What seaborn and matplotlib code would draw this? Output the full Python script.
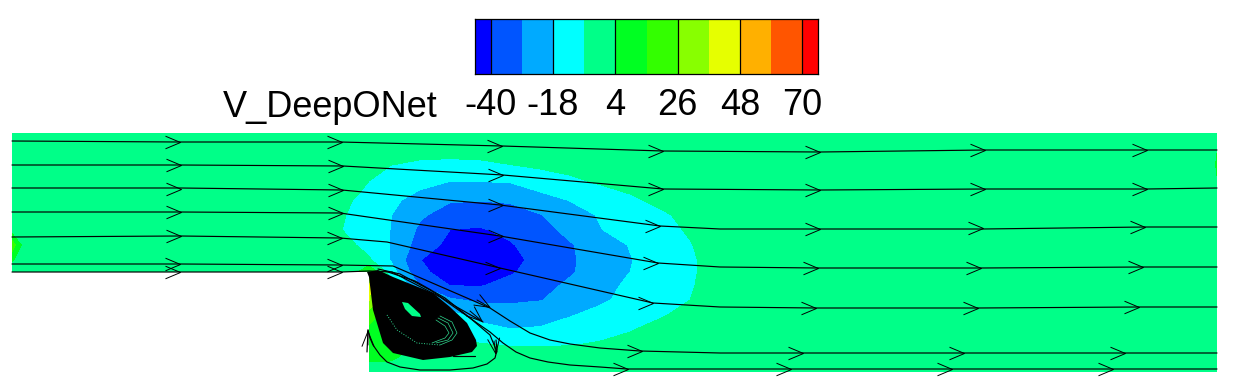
import numpy as np
import matplotlib
matplotlib.use("Agg")
import matplotlib.pyplot as plt
import seaborn as sns
from matplotlib.colors import ListedColormap, BoundaryNorm
from matplotlib.path import Path

# Contour levels and legend
levels = [-40, -29, -18, -7, 4, 15, 26, 37, 48, 59, 70]
band_colors = ['#0000ff', '#0055ff', '#00aaff', '#00ffff', '#00ff88', '#00ff22',
               '#33ff00', '#88ff00', '#e6ff00', '#ffb000', '#ff5500', '#ff0000']
band_mid = [-45, -34.5, -23.5, -12.5, -1.5, 9.5, 20.5, 31.5, 42.5, 53.5, 64.5, 75]
band_cells = [1, 2, 2, 2, 2, 2, 2, 2, 2, 2, 2, 1]
tick_labels = ['-40', '-18', '4', '26', '48', '70']
tick_cells = [1, 5, 9, 13, 17, 21]

# V field, rows are y, columns are x
field_x = [12, 24, 300, 340, 360, 369, 390, 420, 450, 480, 510, 540, 570, 600, 630, 660, 690, 710, 740, 1213, 1217]
field_y = [133, 150, 165, 182, 200, 215, 230, 245, 260, 272, 285, 300, 315, 330, 345, 358, 372]
field_v = [
    [-1.5, -1.5, -1.5, -1.5, -1.5, -1.5, -1.5, -1.5, -1.5, -1.5, -1.5, -1.5, -1.5, -1.5, -1.5, -1.5, -1.5, -1.5, -1.5, -1.5, -1.5],
    [-1.5, -1.5, -1.5, -1.5, -1.5, -1.5, -1.5, -1.5, -1.5, -1.5, -1.5, -1.5, -1.5, -1.5, -1.5, -1.5, -1.5, -1.5, -1.5, -1.5, 3],
    [-1.5, -1.5, -1.5, -1.5, -2.5, -4, -6.8, -10, -11, -10, -7.2, -5.5, -4, -3, -2, -1.5, -1.5, -1.5, -1.5, -1.5, 7],
    [-1.5, -1.5, -1.5, -2.5, -5, -7.2, -11, -15, -18.3, -18.2, -17.7, -12, -9, -6, -4, -2.5, -1.5, -1.5, -1.5, -1.5, 2],
    [-1.5, -1.5, -1.5, -4.5, -8.5, -10.5, -15.5, -22, -28, -28.5, -27.5, -23, -17.5, -13, -8.5, -5, -3, -2, -1.5, -1.5, -1.5],
    [-1.5, -1.5, -1.5, -5.5, -10.5, -13, -17.5, -27.5, -33.5, -36, -34, -29.5, -23.5, -17, -13, -8.5, -4.5, -2.5, -1.5, -1.5, -1.5],
    [-1.5, -1.5, -1.5, -6.5, -11, -13, -18, -31, -40, -41, -37.5, -33, -26, -18.5, -14, -10, -6, -3.5, -1.5, -1.5, -1.5],
    [22, -1.5, -1.5, -3, -8, -11.5, -18, -34, -43, -46, -41, -35, -30, -23, -17.5, -12.5, -7.5, -4, -1.5, -1.5, -1.5],
    [5, -1.5, -1.5, -1.5, -3.5, -5.5, -18, -39.8, -45, -46, -44, -36, -30.5, -24, -18.5, -13.5, -8.5, -4.5, -1.5, -1.5, -1.5],
    [-1.5, -1.5, -1.5, -1.5, 5, 14, -12, -38, -44, -45, -41.5, -35, -30, -24.5, -18, -13.5, -8.5, -4.5, -1.5, -1.5, -1.5],
    [-1.5, -1.5, -1.5, -1.5, 5, 40, 0, -30, -40.5, -41, -36, -32, -27.5, -22, -16, -12, -8, -4, -1.5, -1.5, -1.5],
    [-1.5, -1.5, -1.5, -1.5, 5, 38, 5, -15, -27.5, -31, -31, -29.5, -25, -20, -14.5, -10.5, -7, -3.5, -1.5, -1.5, -1.5],
    [-1.5, -1.5, -1.5, -1.5, 5, 20, 8, -5, -15, -21, -23, -21.5, -18.8, -14.5, -11, -8, -4, -2, -1.5, -1.5, -1.5],
    [-1.5, -1.5, -1.5, -1.5, 5, 12, 8, 0, -10, -15, -17.5, -17, -13, -10, -7.5, -4, -2, -1.5, -1.5, -1.5, -1.5],
    [-1.5, -1.5, -1.5, -1.5, 5, 8, 7, 3, -2, -6, -7.6, -7.6, -7.3, -6, -4, -2.5, -1.5, -1.5, -1.5, -1.5, -1.5],
    [-1.5, -1.5, -1.5, -1.5, 5, 6, 5.5, -1, -1.5, -1.5, -3, -3, -2, -1.5, -1.5, -1.5, -1.5, -1.5, -1.5, -1.5, -1.5],
    [-1.5, -1.5, -1.5, -1.5, -1.5, -1.5, -1.5, -1.5, -1.5, -1.5, -1.5, -1.5, -1.5, -1.5, -1.5, -1.5, -1.5, -1.5, -1.5, -1.5, -1.5],
]

# Step geometry, white below the inlet channel
step_x = [12, 369]
step_top = 272
step_bottom = 372

# Recirculation bubble outline and its eye
vortex_x = [367, 378, 393, 413, 433, 450, 467, 476, 477, 472, 450, 423, 393, 383, 373, 369]
vortex_y = [272, 270, 277, 285, 293, 307, 323, 340, 346, 352, 357, 360, 353, 343, 310, 277]
eye_x = [402, 408, 420, 421, 412, 405]
eye_y = [302, 303, 314, 317, 316, 309]

# Light traces showing through the black bubble
trace1_x = [440, 452, 457, 452, 440]
trace1_y = [345, 340, 333, 322, 316]
trace2_x = [436, 448, 453, 448, 438]
trace2_y = [343, 340, 333, 323, 318]
trace3_x = [432, 445, 449, 445, 436]
trace3_y = [343, 338, 333, 326, 320]
dots_x = [387, 397, 417, 440]
dots_y = [315, 330, 343, 345]

# Streamlines
line1_x = [12, 178, 340, 502, 663, 820, 985, 1145, 1217]
line1_y = [141, 142, 142, 146, 151, 152, 150, 150, 150]
line2_x = [12, 180, 343, 503, 663, 820, 985, 1147, 1217]
line2_y = [165, 165, 166, 175, 189, 190, 189, 189, 188]
line3_x = [12, 180, 342, 500, 660, 720, 820, 983, 1145, 1217]
line3_y = [188, 188, 190, 205, 226, 229, 229, 229, 227, 227]
line4_x = [12, 180, 340, 500, 658, 720, 818, 981, 1143, 1217]
line4_y = [212, 212, 213, 236, 263, 267, 268, 268, 267, 267]
line5_x = [12, 180, 340, 387, 500, 653, 720, 816, 978, 1139, 1217]
line5_y = [237, 236, 238, 242, 268, 303, 307, 308, 308, 307, 307]
line6_x = [12, 180, 340, 393, 430, 460, 490, 510, 530, 550, 570, 600, 640, 720, 803, 964, 1125, 1217]
line6_y = [264, 264, 265, 266, 282, 295, 308, 321, 333, 340, 344, 348, 351, 353, 353, 353, 353, 353]
line7_x = [12, 180, 342, 369, 392, 440, 477, 490, 503, 516, 530, 548, 570, 600, 627, 720, 952, 1113, 1217]
line7_y = [272, 272, 272, 271, 272, 297, 323, 332, 343, 352, 358, 362, 365, 367, 369, 369, 369, 369, 369]
back_x = [368, 370, 373, 380, 387, 400, 420, 450, 473, 487, 495, 497, 496]
back_y = [330, 338, 345, 355, 362, 367, 370, 370, 368, 364, 358, 350, 340]
edge1_x = [378, 400, 430, 455, 483]
edge1_y = [269, 274, 290, 306, 322]
edge2_x = [385, 415, 445, 470, 490, 497]
edge2_y = [271, 281, 298, 318, 335, 352]
stub_x = [453, 475]
stub_y = [356, 356]
wall_x = [367, 368]
wall_y = [352, 330]

# Arrow tips on the mostly level streamlines
tips_x = [180, 342, 502, 663, 820, 985, 1147,
          181, 343, 503, 663, 820, 985, 1147,
          181, 343, 503, 660, 820, 983, 1145,
          181, 343, 503, 658, 818, 981, 1143,
          181, 342, 500, 653, 816, 978, 1139,
          180, 342, 642, 803, 964, 1125,
          180, 342, 628, 791, 952, 1113]
tips_y = [142, 142, 146, 151, 152, 150, 150,
          165, 166, 175, 189, 190, 189, 189,
          189, 190, 205, 226, 229, 228, 227,
          212, 213, 236, 263, 268, 268, 267,
          236, 238, 268, 303, 308, 308, 307,
          264, 265, 351, 353, 353, 353,
          272, 272, 369, 369, 369, 369]

# Arrows that follow the bubble, tail then tip
steep_tail_x = [477, 470, 494, 368]
steep_tail_y = [300, 311, 341, 345]
steep_tip_x = [491, 483, 496, 368]
steep_tip_y = [308, 322, 355, 330]


def draw_line(ax, xs, ys, color='black', lw=0.85, ls='-'):
    sns.lineplot(x=xs, y=ys, ax=ax, color=color, lw=lw, ls=ls, sort=False, estimator=None, zorder=5)


def main():
    sns.set_theme(style='white')
    plt.rcParams['font.family'] = ['Liberation Sans', 'DejaVu Sans']

    fig = plt.figure(figsize=(12.36, 3.88), dpi=100)
    ax = fig.add_axes([0, 0, 1, 1])

    bounds = [-60] + levels + [90]
    ax.contourf(field_x, field_y, np.array(field_v), levels=bounds, colors=band_colors, zorder=1)
    ax.fill_between(step_x, step_top, step_bottom + 1, color='white', lw=0, zorder=2)

    ax.fill(vortex_x, vortex_y, color='black', lw=0, zorder=3)
    ax.fill(eye_x, eye_y, color=band_colors[4], lw=0, zorder=4)
    for xs, ys in [(trace1_x, trace1_y), (trace2_x, trace2_y), (trace3_x, trace3_y)]:
        draw_line(ax, xs, ys, color='#30d890', lw=0.5)
    draw_line(ax, dots_x, dots_y, color='#30d890', lw=0.7, ls=':')

    streamlines = [(line1_x, line1_y), (line2_x, line2_y), (line3_x, line3_y), (line4_x, line4_y),
                   (line5_x, line5_y), (line6_x, line6_y), (line7_x, line7_y), (back_x, back_y),
                   (edge1_x, edge1_y), (edge2_x, edge2_y), (stub_x, stub_y), (wall_x, wall_y)]
    for xs, ys in streamlines:
        draw_line(ax, xs, ys)

    chevron = Path([(-1, 0.42), (0, 0), (-1, -0.42)], [Path.MOVETO, Path.LINETO, Path.LINETO])
    ax.plot(tips_x, tips_y, ls='none', marker=chevron, ms=21.6, mfc='none', mec='black', mew=0.7, zorder=6)
    for x0, y0, x1, y1 in zip(steep_tail_x, steep_tail_y, steep_tip_x, steep_tip_y):
        ax.annotate('', xy=(x1, y1), xytext=(x0, y0), zorder=6,
                    arrowprops=dict(arrowstyle='->,head_length=1.08,head_width=0.43',
                                    mutation_scale=10, lw=0.7, color='black',
                                    shrinkA=0, shrinkB=0))

    ax.set_xlim(0, 1236)
    ax.set_ylim(388, 0)
    ax.axis('off')
    ax.text(438, 117, 'V_DeepONet', ha='right', va='baseline', fontsize=26, color='black')

    # Legend strip
    cax = fig.add_axes([475 / 1236, 1 - 74 / 388, 343 / 1236, 55 / 388])
    cells = np.repeat(band_mid, band_cells).reshape(1, -1)
    sns.heatmap(cells, ax=cax, cmap=ListedColormap(band_colors),
                norm=BoundaryNorm(bounds, len(band_colors)), cbar=False,
                xticklabels=False, yticklabels=False)
    cax.vlines(tick_cells, 0, 1, color='black', lw=0.9)
    cax.set_xticks(tick_cells)
    cax.set_xticklabels(tick_labels, fontsize=26, rotation=0, color='black')
    cax.tick_params(axis='x', length=0, pad=10, bottom=False)
    for side in cax.spines.values():
        side.set_visible(True)
        side.set_color('black')
        side.set_linewidth(0.9)

    fig.savefig('out.png', dpi=100)
    plt.close(fig)


if __name__ == "__main__":
    main()
